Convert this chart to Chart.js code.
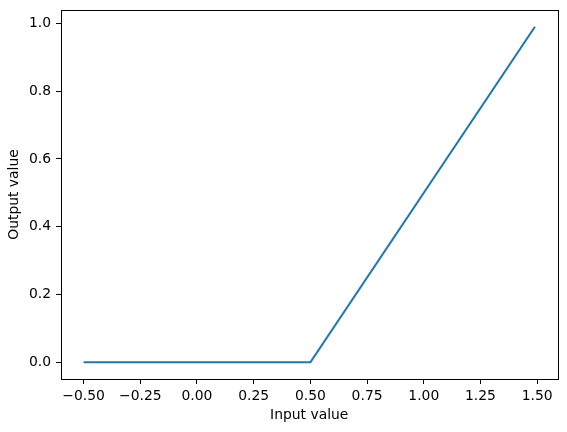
<!DOCTYPE html>
<html>
<head>
<meta charset="utf-8">
<script src="https://cdn.jsdelivr.net/npm/chart.js@4"></script>
<style>
  html, body { margin: 0; padding: 0; background: #fff; }
  #wrap { width: 567px; height: 432px; }
</style>
</head>
<body>
<div id="wrap"><canvas id="c" width="567" height="432"></canvas></div>
<script>
const xValues = [-0.5, 0.5, 1.49];
const yValues = [0, 0, 0.99];
const xTicks = [-0.5, -0.25, 0.0, 0.25, 0.5, 0.75, 1.0, 1.25, 1.5];
const yTicks = [0.0, 0.2, 0.4, 0.6, 0.8, 1.0];
const xLabel = 'Input value';
const yLabel = 'Output value';

const points = xValues.map((x, i) => ({ x: x, y: yValues[i] }));
const fontFamily = '"DejaVu Sans", sans-serif';
const fontSize = 13.9;

const frame = {
  id: 'frame',
  afterDatasetsDraw(chart) {
    const { ctx, chartArea: a } = chart;
    ctx.save();
    ctx.strokeStyle = '#000';
    ctx.lineWidth = 1;
    ctx.strokeRect(Math.round(a.left) + 0.5, Math.round(a.top) + 0.5,
                   Math.round(a.right - a.left), Math.round(a.bottom - a.top));
    ctx.restore();
  }
};

new Chart(document.getElementById('c'), {
  type: 'scatter',
  data: {
    datasets: [{
      data: points,
      showLine: true,
      borderColor: '#1f77b4',
      backgroundColor: '#1f77b4',
      borderWidth: 2.1,
      pointRadius: 0,
      tension: 0
    }]
  },
  options: {
    responsive: false,
    animation: false,
    devicePixelRatio: 1,
    layout: { padding: { top: 10, right: 9.5, left: 0, bottom: 0 } },
    plugins: { legend: { display: false }, tooltip: { enabled: false } },
    scales: {
      x: {
        type: 'linear',
        min: -0.5995,
        max: 1.5895,
        afterBuildTicks: s => { s.ticks = xTicks.map(v => ({ value: v })); },
        afterFit: s => { s.height = 53; s.paddingLeft = 0; s.paddingRight = 0; },
        grid: { drawOnChartArea: false, drawTicks: true, tickLength: 5, tickWidth: 1, tickColor: '#000' },
        border: { display: false },
        ticks: {
          color: '#000', padding: 4, maxRotation: 0, autoSkip: false,
          font: { family: fontFamily, size: fontSize },
          callback: v => v.toFixed(2).replace('-', '\u2212')
        },
        title: {
          display: true, text: xLabel, color: '#000',
          font: { family: fontFamily, size: fontSize },
          padding: { top: 0, bottom: 8 }
        }
      },
      y: {
        type: 'linear',
        min: -0.0495,
        max: 1.0395,
        afterBuildTicks: s => { s.ticks = yTicks.map(v => ({ value: v })); },
        afterFit: s => { s.width = 61; s.paddingTop = 0; s.paddingBottom = 0; },
        grid: { drawOnChartArea: false, drawTicks: true, tickLength: 5, tickWidth: 1, tickColor: '#000' },
        border: { display: false },
        ticks: {
          color: '#000', padding: 5, autoSkip: false,
          font: { family: fontFamily, size: fontSize },
          callback: v => v.toFixed(1).replace('-', '\u2212')
        },
        title: {
          display: true, text: yLabel, color: '#000',
          font: { family: fontFamily, size: fontSize },
          padding: { top: 6, bottom: 0 }
        }
      }
    }
  },
  plugins: [frame]
});
</script>
</body>
</html>
